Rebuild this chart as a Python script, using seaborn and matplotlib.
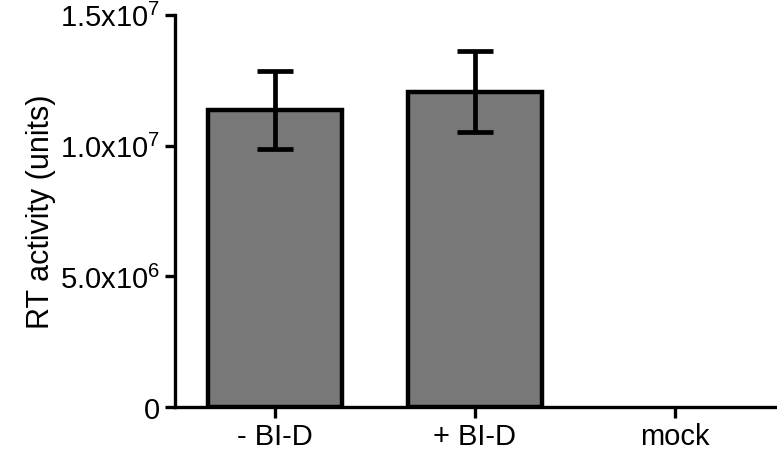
import numpy as np
import pandas as pd
import seaborn as sns
import matplotlib
matplotlib.use("Agg")
import matplotlib.pyplot as plt

# values
groups = ["- BI-D", "+ BI-D", "mock"]
rt_activity = [1.137e7, 1.206e7, 0.0]
rt_err = [0.149e7, 0.155e7, 0.0]
ytick_vals = [0, 5e6, 1e7, 1.5e7]
ytick_labels = ["0", r"5.0x10$^6$", r"1.0x10$^7$", r"1.5x10$^7$"]

sns.set_style("ticks", {"text.color": "black", "axes.labelcolor": "black",
                        "xtick.color": "black", "ytick.color": "black",
                        "axes.edgecolor": "black"})
plt.rcParams["font.family"] = ["Liberation Sans", "DejaVu Sans"]
plt.rcParams["mathtext.fontset"] = "custom"
plt.rcParams["mathtext.rm"] = "Liberation Sans"
plt.rcParams["mathtext.it"] = "Liberation Sans"
plt.rcParams["mathtext.bf"] = "Liberation Sans"

df = pd.DataFrame({"group": groups, "value": rt_activity, "err": rt_err})
df["pos"] = range(len(groups))

fig = plt.figure(figsize=(7.77, 4.52), dpi=100)
ax = fig.add_axes([0.225, 0.097, 0.775, 0.868])

sns.barplot(data=df, x="group", y="value", color="#787878", width=0.67,
            edgecolor="black", linewidth=3.2, saturation=1, errorbar=None, ax=ax)
# no visible outline for a zero-height bar
for p, v in zip(ax.patches, rt_activity):
    if v == 0:
        p.set_linewidth(0)
eb = df[df["err"] > 0]
ax.errorbar(eb["pos"], eb["value"], yerr=eb["err"], fmt="none",
            ecolor="black", elinewidth=3.4, capsize=13, capthick=3.4, zorder=5)

ax.set_xlim(-0.5, 2.51)
ax.set_ylim(0, 1.5e7)
ax.set_yticks(ytick_vals)
ax.set_yticklabels(ytick_labels)
ax.set_xlabel("")
ax.set_ylabel("RT activity (units)", fontsize=22, labelpad=3)
ax.tick_params(axis="both", labelsize=21, width=2.4, length=7, direction="out", color="black")
ax.tick_params(axis="x", length=8, pad=3)

for side in ["top", "right"]:
    ax.spines[side].set_visible(False)
for side in ["left", "bottom"]:
    ax.spines[side].set_linewidth(2.4)
    ax.spines[side].set_color("black")

fig.savefig("out.png", dpi=100)
